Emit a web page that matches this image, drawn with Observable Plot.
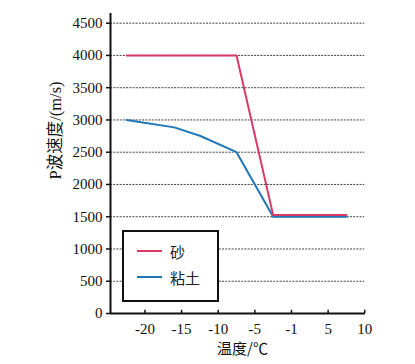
<!DOCTYPE html>
<html>
<head>
<meta charset="utf-8">
<script src="https://cdn.jsdelivr.net/npm/d3@7"></script>
<script src="https://cdn.jsdelivr.net/npm/@observablehq/plot@0.6"></script>
<style>
  html, body { margin: 0; padding: 0; background: #fff; }
  #wrap { position: relative; width: 415px; height: 364px; }
  #wrap svg text { font-family: "Liberation Serif", "Noto Sans CJK SC", serif; }
  #wrap svg g.cjk text { font-family: "Noto Sans CJK SC", sans-serif; }
  #legend {
    position: absolute; left: 122px; top: 230px; width: 93px; height: 68px;
    border: 2px solid #111; background: #fff;
    font-family: "Noto Sans CJK SC", sans-serif; font-size: 15px; color: #222;
  }
  .item { position: absolute; left: 13px; display: flex; align-items: center; height: 20px; }
  .sw { width: 25px; height: 0; border-top: 2px solid; margin-right: 8px; }
</style>
</head>
<body>
<div id="wrap"></div>
<script>
// ---- data ----
const seriesNames = ["砂", "粘土"];
const seriesColors = ["#d93a63", "#1f77b8"];
const sandTemp = [-22.5, -7.5, -2.5, 7.5];
const sandSpeed = [4000, 4000, 1525, 1525];
const clayTemp = [-22.5, -16, -12.5, -7.5, -2.5, 7.5];
const claySpeed = [3000, 2885, 2755, 2500, 1500, 1500];
const xTicks = [-20, -15, -10, -5, 0, 5, 10];
const xTickLabels = ["-20", "-15", "-10", "-5", "-1", "5", "10"];
const yTicks = [0, 500, 1000, 1500, 2000, 2500, 3000, 3500, 4000, 4500];
const xLabel = "温度/℃";
const yLabel = "P波速度/(m/s)";

const sand = sandTemp.map((t, i) => ({t, v: sandSpeed[i]}));
const clay = clayTemp.map((t, i) => ({t, v: claySpeed[i]}));
const xMin = -24.7, xMax = 10.1, yMax = 4650;

const chart = Plot.plot({
  width: 415, height: 364,
  marginLeft: 110, marginRight: 50, marginTop: 13, marginBottom: 51,
  x: {domain: [xMin, xMax]},
  y: {domain: [0, yMax]},
  style: {fontFamily: "'Liberation Serif', serif", fontSize: "15px", background: "#fff", color: "#111"},
  marks: [
    Plot.ruleY(yTicks.filter(v => v > 0), {x1: xMin, x2: 10, stroke: "#444", strokeWidth: 1, strokeDasharray: "2,1.2"}),
    Plot.line(clay, {x: "t", y: "v", stroke: seriesColors[1], strokeWidth: 2}),
    Plot.line(sand, {x: "t", y: "v", stroke: seriesColors[0], strokeWidth: 2}),
    Plot.ruleY([0], {x1: xMin, x2: xMax, stroke: "#111", strokeWidth: 2}),
    Plot.ruleX([xMin], {y1: 0, y2: yMax, stroke: "#111", strokeWidth: 2}),
    Plot.ruleX(xTicks, {y1: 0, y2: 50, stroke: "#111", strokeWidth: 1.5}),
    Plot.axisX({ticks: xTicks, tickFormat: d => xTickLabels[xTicks.indexOf(d)], tickSize: 0, tickPadding: 10, label: null, fontSize: 15, fontVariant: "normal"}),
    Plot.axisY({ticks: yTicks, tickFormat: d => String(d), tickSize: 4, tickPadding: 4, label: null, strokeWidth: 1.5, fontSize: 15, fontVariant: "normal"}),
    Plot.text([xLabel], {text: d => d, frameAnchor: "bottom", dx: 4.5, dy: 40, fontSize: 15, className: "cjk"}),
    Plot.text([yLabel], {text: d => d, frameAnchor: "left", rotate: -90, dx: -55, dy: 16, fontSize: 16.5})
  ]
});
const wrap = document.getElementById("wrap");
wrap.appendChild(chart);

const legend = document.createElement("div");
legend.id = "legend";
seriesNames.forEach((name, i) => {
  const it = document.createElement("div");
  it.className = "item";
  it.style.top = (9 + i * 26) + "px";
  const sw = document.createElement("span");
  sw.className = "sw";
  sw.style.borderTopColor = seriesColors[i];
  const tx = document.createElement("span");
  tx.textContent = name;
  it.appendChild(sw); it.appendChild(tx);
  legend.appendChild(it);
});
wrap.appendChild(legend);
</script>
</body>
</html>
